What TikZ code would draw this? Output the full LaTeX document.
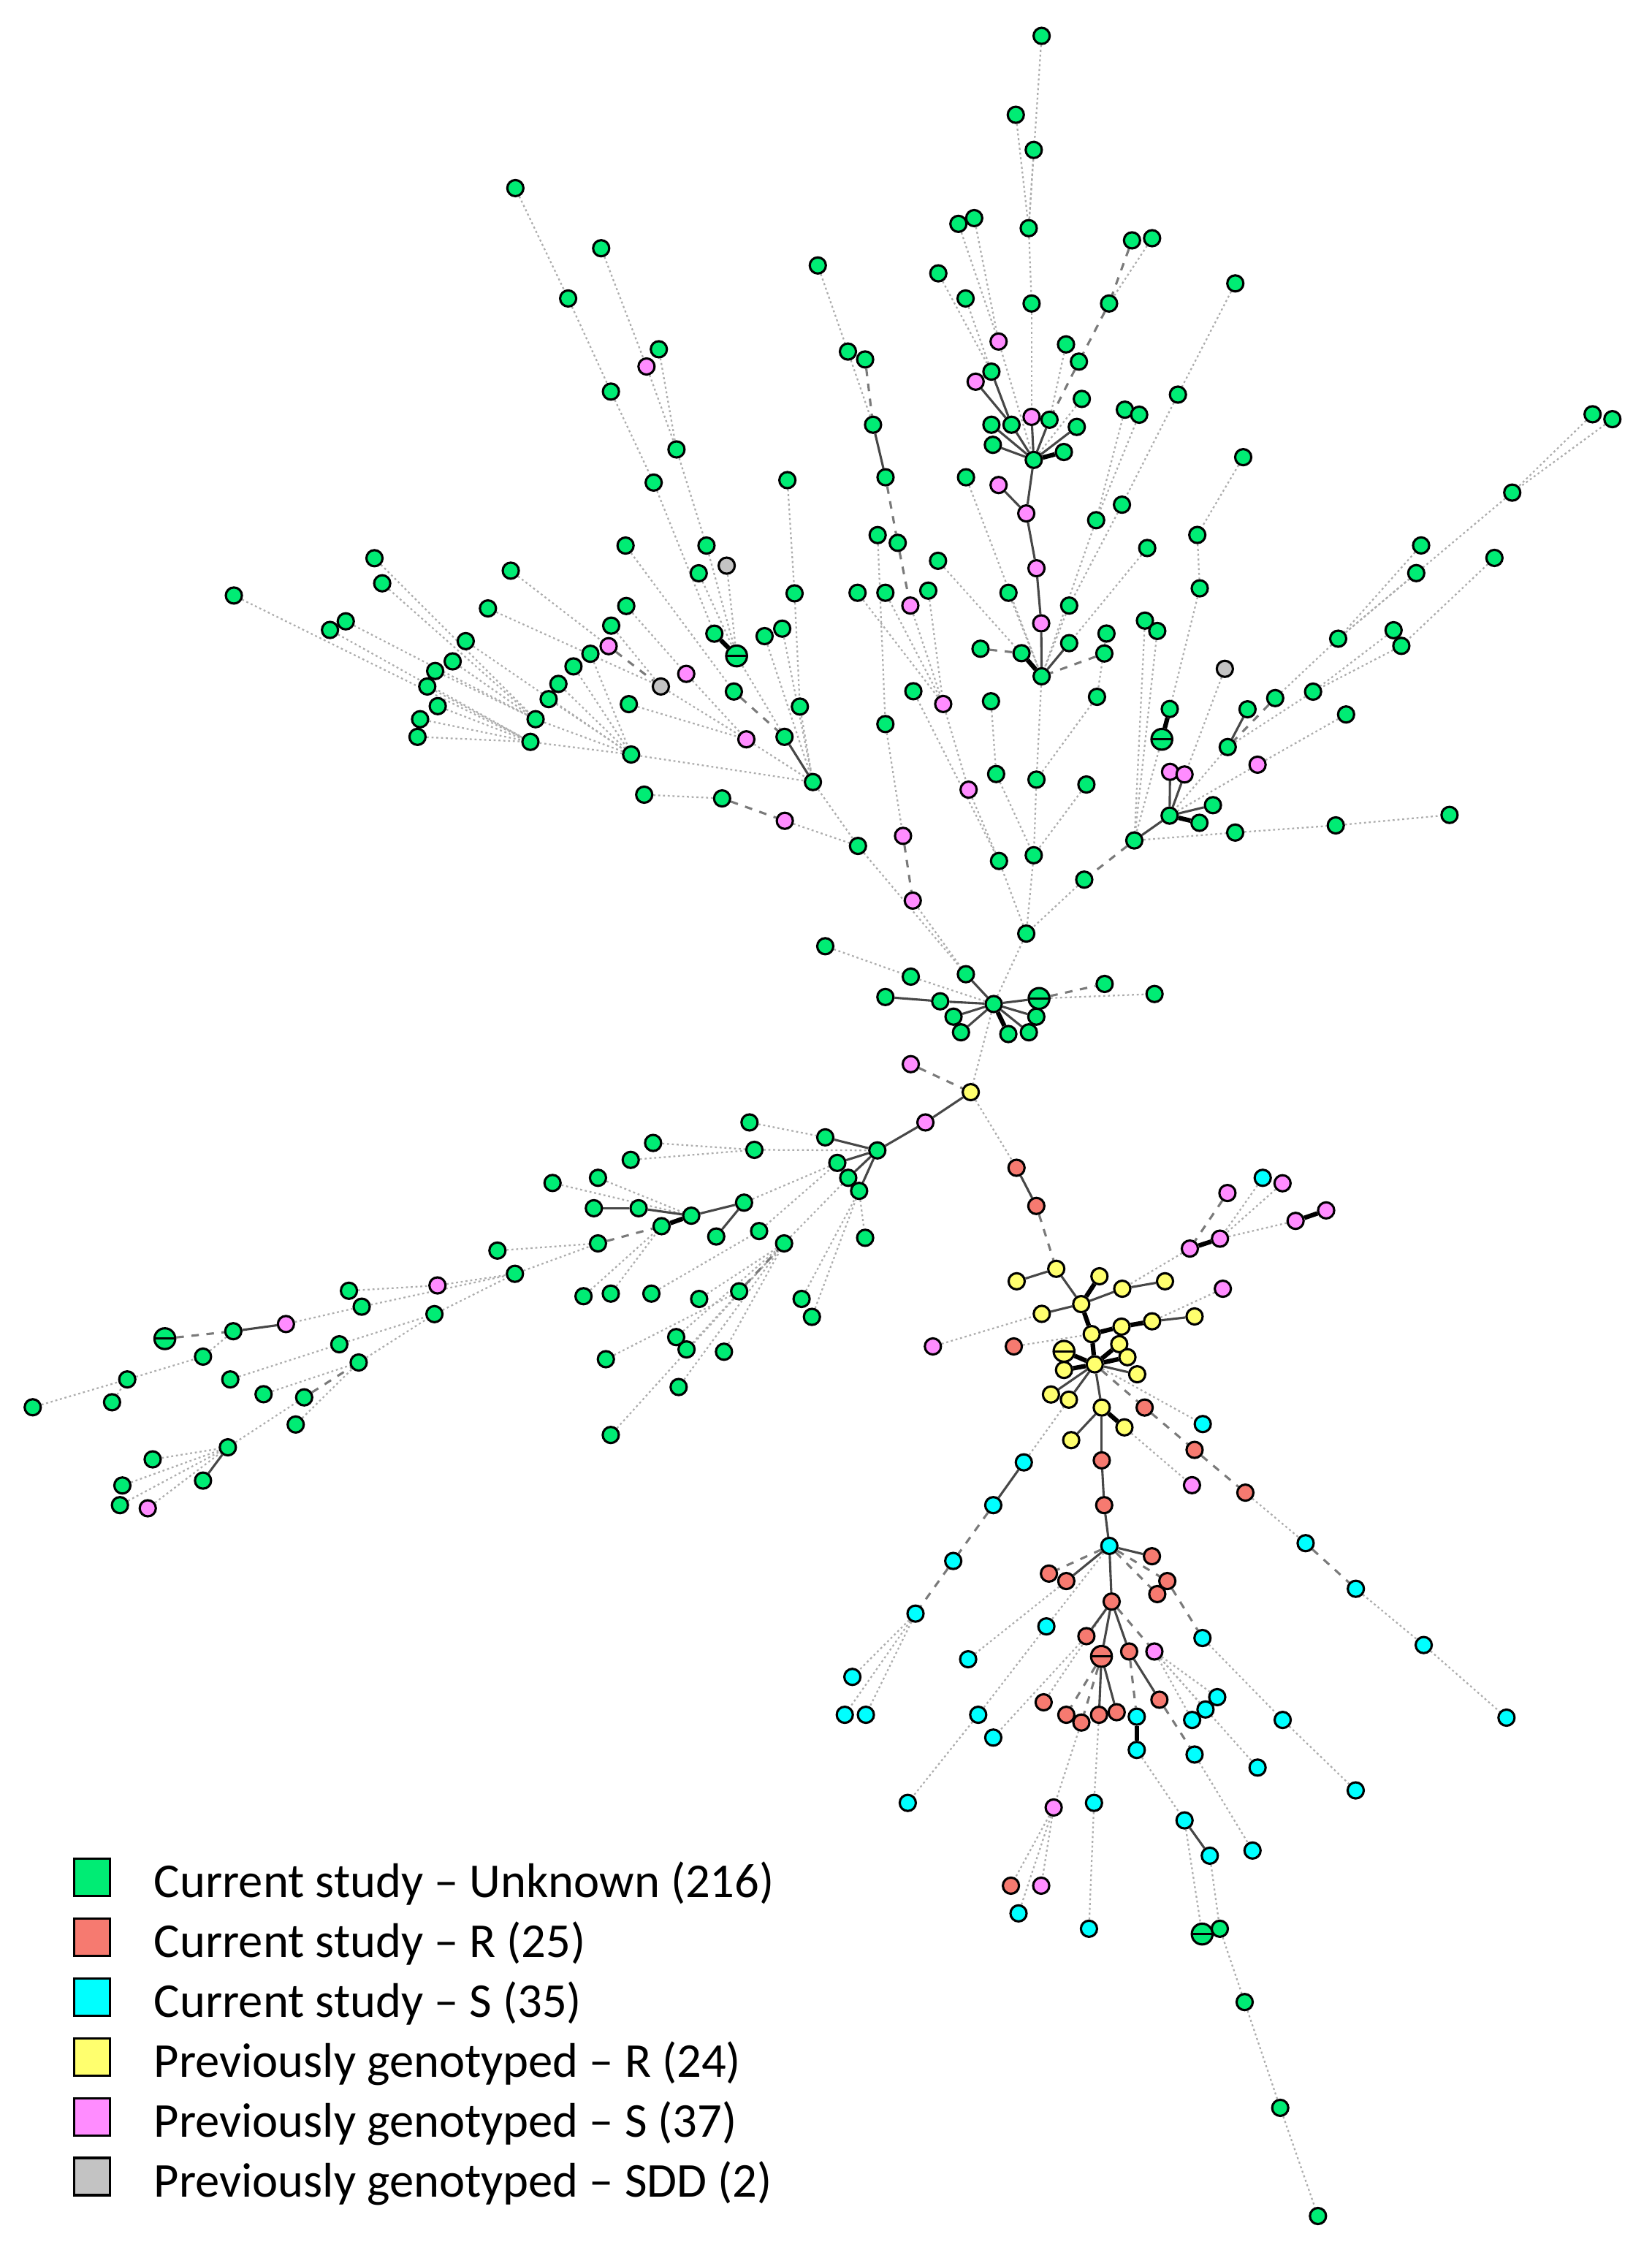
\documentclass[tikz,border=0pt]{standalone}
\usepackage{fontspec}
\newfontfamily\legfont{Carlito}
\pgfdeclarelayer{bg}
\pgfsetlayers{bg,main}
\definecolor{cG}{RGB}{0,236,116}
\definecolor{cR}{RGB}{246,122,112}
\definecolor{cC}{RGB}{0,255,255}
\definecolor{cY}{RGB}{255,255,110}
\definecolor{cP}{RGB}{255,140,255}
\definecolor{cS}{RGB}{195,195,195}
\begin{document}
\begin{tikzpicture}[x=0.02cm,y=-0.02cm,
  nd/.style={circle,draw=black,line width=0.9pt,minimum size=0.225cm,inner sep=0pt},
  ng/.style={nd,fill=cG}, nr/.style={nd,fill=cR}, nc/.style={nd,fill=cC},
  ny/.style={nd,fill=cY}, np/.style={nd,fill=cP}, ns/.style={nd,fill=cS},
  dbl/.style={minimum size=0.29cm,path picture={\draw[line width=0.9pt] (path picture bounding box.west) -- (path picture bounding box.east);}},
  edot/.style={draw=black!32,line width=0.65pt,dash pattern=on 0.8pt off 1.1pt},
  edash/.style={draw=black!52,line width=0.9pt,dash pattern=on 3pt off 3pt},
  esol/.style={draw=black!72,line width=0.9pt},
  ethk/.style={draw=black,line width=1.8pt},
  legbox/.style={draw=black,line width=0.9pt,minimum width=0.5cm,minimum height=0.52cm,inner sep=0pt},
  legtext/.style={anchor=base west,inner sep=0pt,font=\legfont\fontsize{19.3}{23}\selectfont}
]
\useasboundingbox (0,0) rectangle (1151,1568);
% ---------- top cluster
\node[ng] (T1) at (726,25) {};
\node[ng] (T2) at (708,80) {};
\node[ng] (T3) at (720.5,104.5) {};
\node[ng] (T4) at (668,156) {};
\node[ng] (T5) at (679,152) {};
\node[ng] (T6) at (717,159) {};
\node[ng] (T7) at (570,185) {};
\node[ng] (T8) at (654,190.5) {};
\node[ng] (T9) at (673,208) {};
\node[ng] (T10) at (719,211.5) {};
\node[ng] (T11) at (789,167.5) {};
\node[ng] (T12) at (803,166) {};
\node[ng] (T13) at (773,211.5) {};
\node[ng] (T14) at (861,197.5) {};
\node[np] (T15) at (696,238) {};
\node[ng] (T16) at (743,240) {};
\node[ng] (T17) at (752,252) {};
\node[ng] (T18) at (591,245) {};
\node[ng] (T19) at (603,250.5) {};
\node[ng] (T20) at (691,259) {};
\node[np] (T21) at (680,266) {};
\node[ng] (T22) at (754,278) {};
\node[ng] (T23) at (784,285.5) {};
\node[ng] (T24) at (794,289) {};
\node[ng] (T25) at (821,275) {};
\node[ng] (T26) at (608.5,296) {};
\node[ng] (T27) at (691,296) {};
\node[ng] (T28) at (705,296) {};
\node[np] (T29) at (719,290.5) {};
\node[ng] (T30) at (731.5,292.5) {};
\node[ng] (T31) at (750.5,297.5) {};
\node[ng] (T32) at (692,310) {};
\node[ng] (TH) at (720.5,320.5) {};
\node[ng] (T33) at (741.5,315) {};
\node[ng] (T34) at (866.5,318.6) {};
\node[ng] (T35) at (617.2,332.6) {};
\node[ng] (T36) at (673.3,332.6) {};
\node[np] (T37) at (696,338) {};
\node[np] (T38) at (715.3,357.8) {};
\node[ng] (T39) at (782,351.7) {};
\node[ng] (T40) at (764,362.5) {};
\node[ng] (T41) at (834.5,372.8) {};
\node[ng] (T42) at (799.6,381.9) {};
\node[ng] (T43) at (611.7,372.9) {};
\node[ng] (T44) at (625.7,378.3) {};
\node[ng] (T45) at (653.8,390.8) {};
\node[np] (T46) at (722.4,396) {};
\node[ng] (T47) at (597.7,413.1) {};
\node[ng] (T48) at (617.1,413.1) {};
\node[np] (T49) at (634.5,422) {};
\node[ng] (T50) at (647,411.6) {};
\node[ng] (T51) at (702.9,413.1) {};
\node[ng] (T52) at (836.2,410) {};
\node[ng] (T53) at (745.2,422) {};
\node[np] (T54) at (725.7,434.4) {};
\node[ng] (T55) at (798,432.5) {};
\node[ng] (T56) at (806.6,439.7) {};
\node[ng] (T57) at (771.2,441.5) {};
\node[ng] (T58) at (683.4,452.1) {};
\node[ng] (T59) at (712,455.2) {};
\node[ng] (T60) at (745.2,448.2) {};
\node[ng] (T61) at (769.7,455.4) {};
\node[ng] (H2) at (726,471.3) {};
\node[ns] (T62) at (853.7,466.1) {};
\node[ng] (T63) at (636.6,481.7) {};
\node[np] (T64) at (657.4,490.6) {};
\node[ng] (T65) at (690.7,488.7) {};
\node[ng] (T66) at (764.6,485.6) {};
\node[ng] (T67) at (815.3,494.1) {};
\node[ng] (T68) at (617.1,504.6) {};
\node[ng,dbl] (T69) at (809.8,515.2) {};
\node[ng] (T70) at (694.3,539.4) {};
\node[ng] (T71) at (722.4,543.3) {};
\node[ng] (T72) at (757.2,546.7) {};
\node[np] (T73) at (675.1,550.3) {};
\node[np] (T74) at (629.4,582.5) {};
\node[ng] (T75) at (696.3,600) {};
\node[ng] (T76) at (720.5,596) {};
% ---------- upper right
\node[ng] (R1) at (1110,288.7) {};
\node[ng] (R2) at (1123.8,292.1) {};
\node[ng] (R3) at (1054,343.3) {};
\node[ng] (R4) at (990.5,380.1) {};
\node[ng] (R5) at (987.1,399.4) {};
\node[ng] (R6) at (1041.6,388.8) {};
\node[ng] (R7) at (932.7,445.1) {};
\node[ng] (R8) at (971.3,439.2) {};
\node[ng] (R9) at (976.7,450.1) {};
\node[ng] (R10) at (915.2,482) {};
\node[ng] (R11) at (888.8,486.5) {};
\node[ng] (R12) at (869.5,494.3) {};
\node[ng] (R13) at (938.2,497.9) {};
\node[ng] (R14) at (855.7,520.6) {};
\node[np] (R15) at (876.5,532.9) {};
\node[np] (R16) at (815.5,537.9) {};
\node[np] (R17) at (825.6,539.7) {};
\node[ng] (R18) at (845.4,561.1) {};
\node[ng] (H3) at (815.2,568.4) {};
\node[ng] (R19) at (836,573.4) {};
\node[ng] (R20) at (860.9,580.2) {};
\node[ng] (R21) at (931,575.2) {};
\node[ng] (R22) at (1010.3,567.9) {};
\node[ng] (R23) at (790.6,585.7) {};
\node[ng] (R24) at (755.7,613) {};
% ---------- upper left
\node[ng] (L1) at (359.2,131.1) {};
\node[ng] (L2) at (419,173) {};
\node[ng] (L3) at (396,208) {};
\node[ng] (L4) at (459.2,243.4) {};
\node[np] (L5) at (450.6,255.4) {};
\node[ng] (L6) at (425.8,272.9) {};
\node[ng] (L7) at (471.5,313.2) {};
\node[ng] (L8) at (455.6,336.3) {};
\node[ng] (L9) at (548.8,334.6) {};
\node[ng] (L10) at (436,380.2) {};
\node[ng] (L11) at (492.4,380.2) {};
\node[ns] (L12) at (506.5,394.2) {};
\node[ng] (L13) at (487,399.5) {};
\node[ng] (L14) at (553.8,413.5) {};
\node[ng] (L16) at (261,389) {};
\node[ng] (L17) at (266.4,406.5) {};
\node[ng] (L18) at (163,415) {};
\node[ng] (L19) at (230,439) {};
\node[ng] (L20) at (241,433) {};
\node[ng] (L21) at (356,397.7) {};
\node[ng] (L22) at (340.1,424) {};
\node[ng] (L23) at (436.5,422.3) {};
\node[ng] (L24) at (426,436) {};
\node[np] (L25) at (424.2,450.3) {};
\node[ng] (L26) at (411.5,455.6) {};
\node[ng] (L27) at (399.7,464.4) {};
\node[ng] (L28) at (389.2,476.6) {};
\node[ng] (L29) at (382.4,487.2) {};
\node[ng] (L30) at (373.3,501.2) {};
\node[ng] (L31) at (369.7,517) {};
\node[ng] (L32) at (324.6,446.8) {};
\node[ng] (L33) at (315.5,460.9) {};
\node[ng] (L34) at (303.3,467.6) {};
\node[ng] (L35) at (297.8,478.4) {};
\node[ng] (L36) at (305.1,492.1) {};
\node[ng] (L37) at (292.8,501.2) {};
\node[ng] (L38) at (291,513.5) {};
\node[ns] (L39) at (460.6,478.4) {};
\node[np] (L40) at (478.3,469.6) {};
\node[ng] (L41) at (497.9,441.6) {};
\node[ng,dbl] (L42) at (513.4,457.1) {};
\node[ng] (L43) at (532.9,443.3) {};
\node[ng] (L44) at (545.2,438.1) {};
\node[ng] (L45) at (511.5,481.9) {};
\node[ng] (L46) at (557.5,492.4) {};
\node[ng] (L47) at (438.3,490.7) {};
\node[np] (L48) at (520.2,515.2) {};
\node[ng] (L49) at (546.8,513.5) {};
\node[ng] (L50) at (566.6,545) {};
\node[ng] (L51) at (439.9,525.8) {};
\node[ng] (L52) at (449,553.8) {};
\node[ng] (L53) at (503.3,556.4) {};
\node[np] (L54) at (547,572) {};
\node[ng] (L55) at (598,589.5) {};
% ---------- centre cluster
\node[np] (C1) at (636.2,627.6) {};
\node[ng] (C2) at (715.3,650.6) {};
\node[ng] (C3) at (575.2,659.4) {};
\node[ng] (C4) at (634.8,680.6) {};
\node[ng] (C5) at (673.2,678.9) {};
\node[ng] (C6) at (617.1,694.8) {};
\node[ng] (C7) at (655.3,697.8) {};
\node[ng] (H4) at (692.6,699.7) {};
\node[ng,dbl] (C8) at (724.2,695.8) {};
\node[ng] (C9) at (769.9,685.7) {};
\node[ng] (C10) at (804.7,692.7) {};
\node[ng] (C11) at (664.6,708.5) {};
\node[ng] (C12) at (669.8,719.4) {};
\node[ng] (C13) at (702.8,720.6) {};
\node[ng] (C14) at (717.1,719.4) {};
\node[ng] (C15) at (722.3,708.5) {};
\node[np] (C16) at (634.8,741.6) {};
\node[ny] (Y0) at (676.6,761.1) {};
\node[np] (C17) at (645,782.2) {};
% ---------- west
\node[ng] (H5) at (611.5,801.7) {};
\node[ng] (W1) at (522.4,782.2) {};
\node[ng] (W2) at (575.2,792.6) {};
\node[ng] (W3) at (455.2,796.5) {};
\node[ng] (W4) at (525.8,801.3) {};
\node[ng] (W5) at (439.6,808.3) {};
\node[ng] (W6) at (583.6,810.4) {};
\node[ng] (W7) at (591.2,820.8) {};
\node[ng] (W8) at (598.8,829.9) {};
\node[ng] (W9) at (385.1,824.4) {};
\node[ng] (W10) at (416.8,820.8) {};
\node[ng] (W11) at (413.9,842) {};
\node[ng] (W12) at (445.1,842) {};
\node[ng] (W13) at (481.8,847.2) {};
\node[ng] (W14) at (518.6,838.1) {};
\node[ng] (W15) at (461.1,854.5) {};
\node[ng] (W16) at (499.2,861.7) {};
\node[ng] (W17) at (529.1,857.9) {};
\node[ng] (W18) at (546.5,866.5) {};
\node[ng] (W19) at (603,862.6) {};
\node[ng] (W20) at (416.8,866.5) {};
\node[ng] (W21) at (346.7,871.5) {};
\node[ng] (W22) at (358.9,887.7) {};
\node[np] (W23) at (304.9,895.8) {};
\node[ng] (W24) at (243.2,899.5) {};
\node[ng] (W25) at (252.1,910.6) {};
\node[ng] (W26) at (302.8,915.8) {};
\node[ng] (W27) at (406.7,903.3) {};
\node[ng] (W28) at (425.7,901.5) {};
\node[ng] (W29) at (454,901.5) {};
\node[ng] (W30) at (487.3,905.2) {};
\node[ng] (W31) at (515.2,899.9) {};
\node[ng] (W32) at (558.7,905.2) {};
\node[ng] (W33) at (565.9,917.7) {};
\node[np] (W34) at (199.3,922.7) {};
\node[ng] (W35) at (162.6,927.7) {};
\node[ng,dbl] (W36) at (114.9,932.9) {};
\node[ng] (W37) at (141.5,945.4) {};
\node[ng] (W38) at (236.5,936.8) {};
\node[ng] (W39) at (250,949.5) {};
\node[ng] (W40) at (88.7,961.3) {};
\node[ng] (W41) at (160.5,961.3) {};
\node[ng] (W42) at (78.1,977.2) {};
\node[ng] (W43) at (22.8,980.7) {};
\node[ng] (W44) at (183.7,971.6) {};
\node[ng] (W45) at (212,973.8) {};
\node[ng] (W46) at (206.1,992.7) {};
\node[ng] (W47) at (471.3,931.8) {};
\node[ng] (W48) at (478.5,940.4) {};
\node[ng] (W49) at (504.6,942) {};
\node[ng] (W50) at (422.3,947.2) {};
\node[ng] (W51) at (473,966.6) {};
\node[ng] (W52) at (425.7,1000) {};
\node[ng] (W53) at (158.8,1008.6) {};
\node[ng] (W54) at (106.4,1017) {};
\node[ng] (W55) at (141.5,1031.8) {};
\node[ng] (W56) at (85.3,1035.2) {};
\node[ng] (W57) at (83.6,1048.9) {};
\node[np] (W58) at (103,1051.1) {};
% ---------- yellow / red / cyan part
\node[nr] (D1) at (708.5,813.8) {};
\node[nr] (D2) at (722.3,840.4) {};
\node[np] (P1) at (855.5,831.4) {};
\node[nc] (P2) at (880.1,820.8) {};
\node[np] (P3) at (893.9,824.6) {};
\node[np] (P4) at (924.3,843.5) {};
\node[np] (P5) at (903,850.8) {};
\node[np] (P6) at (850.3,863.2) {};
\node[np] (P7) at (829.3,870.1) {};
\node[ny] (Y1) at (736.2,884.2) {};
\node[ny] (Y2) at (708.6,892.9) {};
\node[ny] (Y3) at (766.3,889.4) {};
\node[ny] (Y4) at (782.2,898.1) {};
\node[ny] (Y5) at (812,892.9) {};
\node[np] (P8) at (852.3,898.1) {};
\node[ny] (Y6) at (753.6,908.8) {};
\node[ny] (Y7) at (726.1,915.6) {};
\node[ny] (Y8) at (832.6,917.4) {};
\node[ny] (Y9) at (803,920.8) {};
\node[ny] (Y10) at (781.7,924.5) {};
\node[ny] (Y11) at (760.9,929.7) {};
\node[np] (P9) at (650.2,938.3) {};
\node[nr] (D3) at (706.6,938.3) {};
\node[ny] (Y12) at (780.1,936.7) {};
\node[ny,dbl] (Y13) at (741.6,941.7) {};
\node[ny] (Y14) at (785.8,945.8) {};
\node[ny] (YH) at (763,950.8) {};
\node[ny] (Y15) at (741.6,954.7) {};
\node[ny] (Y16) at (792.6,957.7) {};
\node[ny] (Y17) at (732.5,971.8) {};
\node[ny] (Y18) at (745,975.4) {};
\node[nr] (D4) at (797.8,980.9) {};
\node[ny] (Y19) at (767.9,980.9) {};
\node[nc] (S1) at (838.3,992.4) {};
\node[ny] (Y20) at (783.7,994.7) {};
\node[ny] (Y21) at (746.6,1003.6) {};
\node[nr] (D5) at (832.6,1010.4) {};
\node[nr] (D6) at (767.9,1017.7) {};
\node[nc] (S2) at (713.6,1019.1) {};
\node[np] (P10) at (830.8,1035) {};
\node[nr] (D7) at (868,1040.2) {};
\node[nr] (D8) at (769.6,1048.9) {};
\node[nc] (S3) at (692.3,1048.9) {};
\node[nc] (S4) at (910,1075.4) {};
\node[nc] (SH) at (773.2,1077.3) {};
\node[nr] (D9) at (802.9,1084.5) {};
\node[nc] (S5) at (664.4,1087.8) {};
\node[nr] (D10) at (731.1,1096.6) {};
\node[nr] (D11) at (743.2,1101.8) {};
\node[nr] (D12) at (813.6,1101.8) {};
\node[nr] (D13) at (806.6,1110.9) {};
\node[nc] (S6) at (945,1107.2) {};
\node[nr] (D14) at (774.8,1116.1) {};
\node[nc] (S7) at (638.1,1124.5) {};
\node[nc] (S8) at (729.3,1133.4) {};
\node[nc] (S9) at (838.1,1141.5) {};
\node[nr] (D15) at (757.2,1140.2) {};
\node[nc] (S10) at (992.3,1146.4) {};
\node[nr,dbl] (D16) at (767.7,1154.3) {};
\node[nr] (D17) at (787,1150.9) {};
\node[np] (P11) at (804.6,1150.9) {};
\node[nc] (S11) at (674.8,1156.3) {};
\node[nc] (S12) at (594.1,1168.6) {};
\node[nc] (S13) at (588.8,1195) {};
\node[nc] (S14) at (603.5,1195) {};
\node[nc] (S15) at (681.8,1195) {};
\node[nc] (S16) at (692.3,1210.9) {};
\node[nr] (D18) at (727.4,1186.3) {};
\node[nr] (D19) at (743.2,1195) {};
\node[nr] (D20) at (753.7,1200.4) {};
\node[nr] (D21) at (766,1195) {};
\node[nr] (D22) at (778.3,1193.2) {};
\node[nr] (D23) at (808.1,1184.5) {};
\node[nc] (S17) at (792.3,1196.3) {};
\node[nc] (S18) at (792.3,1219.5) {};
\node[nc] (S19) at (848.4,1182.7) {};
\node[nc] (S20) at (840.2,1191.3) {};
\node[nc] (S21) at (830.9,1198.6) {};
\node[nc] (S22) at (832.6,1222.7) {};
\node[nc] (S23) at (894,1198.6) {};
\node[nc] (S24) at (876.5,1231.8) {};
\node[nc] (S25) at (944.9,1247.7) {};
\node[nc] (S26) at (1050,1197) {};
\node[nc] (S27) at (632.7,1256.4) {};
\node[np] (P12) at (734.4,1259.6) {};
\node[nc] (S28) at (762.5,1256.4) {};
\node[nc] (S29) at (825.6,1268.6) {};
\node[nc] (S30) at (843.2,1293.2) {};
\node[nc] (S31) at (873,1289.6) {};
\node[nr] (D24) at (704.6,1314.1) {};
\node[np] (P13) at (725.7,1314.1) {};
\node[nc] (S32) at (709.9,1333.4) {};
\node[nc] (S33) at (759,1344.1) {};
\node[ng,dbl] (G1) at (837.9,1347.8) {};
\node[ng] (G2) at (850.2,1344.1) {};
\node[ng] (G3) at (867.5,1395.2) {};
\node[ng] (G4) at (892.3,1468.9) {};
\node[ng] (G5) at (918.6,1544.3) {};
% ---------- connectors
\begin{pgfonlayer}{bg}
\foreach \a/\b in {T1/T6,T2/T6,T3/T6,T6/T10,T10/T29,T4/T15,T5/T15,T15/TH,T8/T20,T9/T20,T12/T13,T16/T30,T22/TH,T7/T18,T18/T26,T14/T25,T25/T39,T39/T53,T53/H2,T23/T40,T24/T40,T40/H2,T34/T41,T41/T52,T52/T67,T42/T60,T57/T66,T66/T71,T51/H2,T36/H2,T45/H2,T43/T68,T68/T74,C1/C5,T49/T64,T47/T64,T48/T64,T50/T64,T64/T73,T73/T75,T63/T75,H2/T71,T71/T76,T76/C2,C2/H4,T65/T70,T70/T76,T72/T76,T75/C2,T55/R23,T56/R23,T62/H3}
  \draw[edot] (\a) -- (\b);
\foreach \a/\b in {R1/R3,R2/R3,R3/R7,R4/R7,R5/R7,R7/R11,R6/R9,R8/R10,R9/R10,R10/R14,R14/H3,R13/R15,R15/H3,R23/R20,R20/R21,R21/R22,T69/R23,R24/C2}
  \draw[edot] (\a) -- (\b);
\foreach \a/\b in {L1/L3,L3/L6,L6/L8,L8/L41,L2/L5,L5/L7,L4/L7,L7/L11,L11/L42,L13/L42,L12/L42,L9/L14,L14/L46,L46/L50,L43/L50,L44/L50,L42/L49,L10/L45,L21/L25,L22/L39,L39/L48,L23/L40,L40/L48,L47/L48,L48/L50,L24/L39,L16/L30,L17/L30,L18/L31,L19/L31,L20/L30,L32/L51,L33/L30,L34/L30,L35/L31,L36/L31,L37/L31,L38/L31,L30/L51,L31/L51,L26/L51,L27/L51,L28/L51,L29/L51,L51/L50,L52/L53,L54/L55,L50/L55,L55/C5}
  \draw[edot] (\a) -- (\b);
\foreach \a/\b in {C4/H4,C3/C4,C8/C10,H4/Y0,Y0/D1,W1/W2,W4/H5,W3/W4,W5/W4,W8/W19,W10/W13,W9/W13,W14/W6,W21/W20,W22/W20,W23/W22,W24/W23,W25/W22,W26/W22,W34/W25,W37/W35,W40/W37,W42/W40,W43/W40,W41/W38,W38/W26,W44/W39,W39/W26,W46/W39,W53/W45,W54/W53,W56/W53,W57/W53,W58/W53,W27/W15,W28/W15,W29/W17,W30/W18,W18/W7,W32/W8,W33/W8,W47/W18,W48/W18,W49/W18,W50/W31,W51/W18,W52/W18,W17/W6}
  \draw[edot] (\a) -- (\b);
\foreach \a/\b in {P9/Y7,D3/Y11,P7/Y4,P2/P6,P3/P6,P5/P6,P8/Y9,YH/S1,D7/S4,S6/S10,S10/S26,Y20/P10,S2/Y18,S9/S23,S23/S25,P11/S19,P11/S20,P11/S21,P11/S24,S7/S12,S7/S13,S7/S14,D11/S11,S8/S15,S15/S27,D15/S16,D20/P12,P12/D24,P12/P13,P12/S32,D21/S28,S28/S33,S18/S29,S29/G1,S30/G2,G2/G3,G3/G4,G4/G5,S22/S31,SH/S8,D14/D18}
  \draw[edot] (\a) -- (\b);
\foreach \a/\b in {T11/T13,T13/T17,T17/T30,T19/T26,T35/T44,T44/T49,T58/T59,T61/H2,T74/C1,R11/R14,R23/R24,L45/L49,L25/L39,L53/L54,C8/C9,C16/Y0,D2/Y1,W20/W15,W36/W35,W45/W39,W31/W18,P1/P7,YH/D4,D4/D5,D5/D7,S4/S6,S3/S5,S5/S7,SH/D10,SH/D12,SH/D13,D14/P11,D16/D19,D16/D20,D17/S17,D12/S9,D23/S22}
  \draw[edash] (\a) -- (\b);
\foreach \a/\b in {T29/TH,T20/T28,T21/T28,T28/TH,T27/TH,T32/TH,T30/TH,T31/TH,T26/T35,TH/T38,T37/T38,T38/T46,T46/T54,T54/H2,T60/H2,R12/R14,H3/R16,H3/R17,H3/R18,H3/R23,L49/L50,C5/H4,C7/H4,C6/C7,C11/H4,C12/H4,C14/H4,C15/H4,C8/H4,Y0/C17,C17/H5,D1/D2,H5/W2,H5/W6,H5/W7,H5/W8,W11/W12,W12/W13,W13/W14,W14/W16,W35/W34,W55/W53,Y1/Y2,Y1/Y6,Y4/Y6,Y4/Y5,Y7/Y6,Y9/Y8,YH/Y16,YH/Y17,YH/Y18,YH/Y19,Y19/Y21,Y19/D6,D6/D8,D8/SH,S2/S3,SH/D9,SH/D11,SH/D14,D14/D15,D14/D16,D14/D17,D16/D21,D16/D22,D17/D23,S29/S30}
  \draw[esol] (\a) -- (\b);
\foreach \a/\b in {T33/TH,T67/T69,T59/H2,H3/R19,L41/L42,C13/H4,W15/W13,P6/P7,P4/P5,Y3/Y6,Y6/Y11,Y11/Y10,Y10/Y9,Y11/YH,YH/Y12,YH/Y14,YH/Y13,YH/Y15,Y19/Y20,S17/S18}
  \draw[ethk] (\a) -- (\b);
\end{pgfonlayer}
% ---------- legend
\node[legbox,fill=cG] (k1) at (64.3,1308.3) {};
\node[legbox,fill=cR] (k2) at (64.3,1350) {};
\node[legbox,fill=cC] (k3) at (64.3,1391.7) {};
\node[legbox,fill=cY] (k4) at (64.3,1433.4) {};
\node[legbox,fill=cP] (k5) at (64.3,1475.1) {};
\node[legbox,fill=cS] (k6) at (64.3,1516.8) {};
\node[legtext] (l1) at (107,1322.5) {Current study \textendash{} Unknown (216)};
\node[legtext] (l2) at (107,1364.2) {Current study \textendash{} R (25)};
\node[legtext] (l3) at (107,1405.9) {Current study \textendash{} S (35)};
\node[legtext] (l4) at (107,1447.6) {Previously genotyped \textendash{} R (24)};
\node[legtext] (l5) at (107,1489.3) {Previously genotyped \textendash{} S (37)};
\node[legtext] (l6) at (107,1531) {Previously genotyped \textendash{} SDD (2)};
\end{tikzpicture}
\end{document}
